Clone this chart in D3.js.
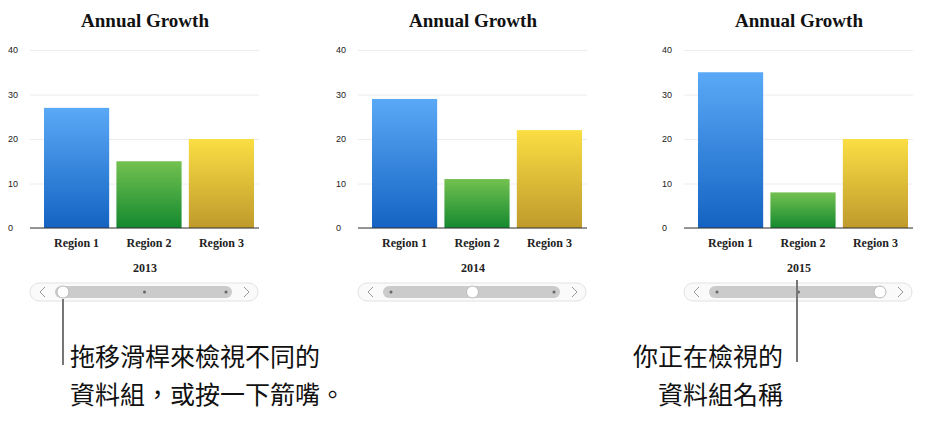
<!DOCTYPE html>
<html><head><meta charset="utf-8">
<script src="https://cdn.jsdelivr.net/npm/d3@7"></script>
<style>body{margin:0;background:#fff}</style>
</head><body>
<svg id="c" width="931" height="423"></svg>
<script>
const regions = ["Region 1", "Region 2", "Region 3"];
const years = ["2013", "2014", "2015"];
const values2013 = [27, 15, 20];
const values2014 = [29, 11, 22];
const values2015 = [35, 8, 20];
const yTicks = [0, 10, 20, 30, 40];
const colors = [["#5aa9f7", "#1463c2"], ["#73c150", "#14892f"], ["#fbde43", "#bf9a2c"]];
const series = [values2013, values2014, values2015];
const offsets = [0, 328, 654];

const svg = d3.select("#c");
const defs = svg.append("defs");
colors.forEach((c, i) => {
  const g = defs.append("linearGradient").attr("id", "g" + i).attr("x1", 0).attr("x2", 0).attr("y1", 0).attr("y2", 1);
  g.append("stop").attr("offset", 0).attr("stop-color", c[0]);
  g.append("stop").attr("offset", 1).attr("stop-color", c[1]);
});

const y = d3.scaleLinear().domain([0, 40]).range([228, 50]);
const serif = "'Liberation Serif', 'DejaVu Serif', serif";

series.forEach((vals, p) => {
  const g = svg.append("g").attr("transform", `translate(${offsets[p]},0)`);
  const x = d3.scaleBand().domain(regions).range([40, 250]).paddingInner(0.1);
  g.append("text").attr("x", 145).attr("y", 27).attr("text-anchor", "middle")
    .attr("font-family", serif).attr("font-weight", "bold").attr("font-size", 19).attr("fill", "#111").text("Annual Growth");
  const ax = g.append("g").attr("transform", "translate(30,0)")
    .call(d3.axisLeft(y).tickValues(yTicks).tickSize(-229).tickPadding(8));
  ax.select(".domain").remove();
  ax.selectAll(".tick line").attr("stroke", "#ececec");
  ax.selectAll(".tick text").attr("font-family", "'Liberation Sans', Arial, sans-serif").attr("font-size", 9).attr("fill", "#222").attr("text-anchor", "start").attr("x", -22);
  g.selectAll("rect.bar").data(vals).join("rect").attr("class", "bar")
    .attr("x", (d, i) => x(regions[i]) + 4).attr("width", x.bandwidth())
    .attr("y", d => y(d)).attr("height", d => y(0) - y(d))
    .attr("fill", (d, i) => `url(#g${i})`);
  g.append("line").attr("x1", 30).attr("x2", 259).attr("y1", 228).attr("y2", 228).attr("stroke", "#333").attr("stroke-width", 1);
  g.selectAll("text.rl").data(regions).join("text").attr("class", "rl")
    .attr("x", d => x(d) + 4 + x.bandwidth() / 2).attr("y", 247).attr("text-anchor", "middle")
    .attr("font-family", serif).attr("font-weight", "bold").attr("font-size", 12).attr("fill", "#222").text(d => d);
  g.append("text").attr("x", 145).attr("y", 272).attr("text-anchor", "middle")
    .attr("font-family", serif).attr("font-weight", "bold").attr("font-size", 12).attr("fill", "#222").text(years[p]);
  // slider
  g.append("rect").attr("x", 30).attr("y", 283).attr("width", 228).attr("height", 18).attr("rx", 9)
    .attr("fill", "#fafafa").attr("stroke", "#e2e2e2");
  g.append("rect").attr("x", 55).attr("y", 286).attr("width", 177).attr("height", 12).attr("rx", 6).attr("fill", "#cbcbcb");
  g.append("path").attr("d", "M45,287 L40,292 L45,297").attr("fill", "none").attr("stroke", "#999");
  g.append("path").attr("d", "M244,287 L249,292 L244,297").attr("fill", "none").attr("stroke", "#999");
  const sx = d3.scalePoint().domain(years).range([63, 226]);
  years.forEach(yr => {
    if (yr !== years[p]) g.append("circle").attr("cx", sx(yr)).attr("cy", 292).attr("r", 1.5).attr("fill", "#666");
  });
  g.append("circle").attr("cx", sx(years[p])).attr("cy", 292).attr("r", 6).attr("fill", "#fff").attr("stroke", "#bbb");
});

const cjk = "'Noto Sans CJK TC', sans-serif";
svg.append("line").attr("x1", 63).attr("x2", 63).attr("y1", 299).attr("y2", 365).attr("stroke", "#777").attr("stroke-width", 2);
svg.append("line").attr("x1", 797).attr("x2", 797).attr("y1", 280).attr("y2", 362).attr("stroke", "#777").attr("stroke-width", 2);
[["拖移滑桿來檢視不同的", 366], ["資料組，或按一下箭嘴。", 404]].forEach(([t, yy]) =>
  svg.append("text").attr("x", 70).attr("y", yy).attr("font-family", cjk).attr("font-size", 25).attr("fill", "#111").text(t));
[["你正在檢視的", 366], ["資料組名稱", 404]].forEach(([t, yy]) =>
  svg.append("text").attr("x", 783).attr("y", yy).attr("text-anchor", "end").attr("font-family", cjk).attr("font-size", 25).attr("fill", "#111").text(t));
</script>
</body></html>
